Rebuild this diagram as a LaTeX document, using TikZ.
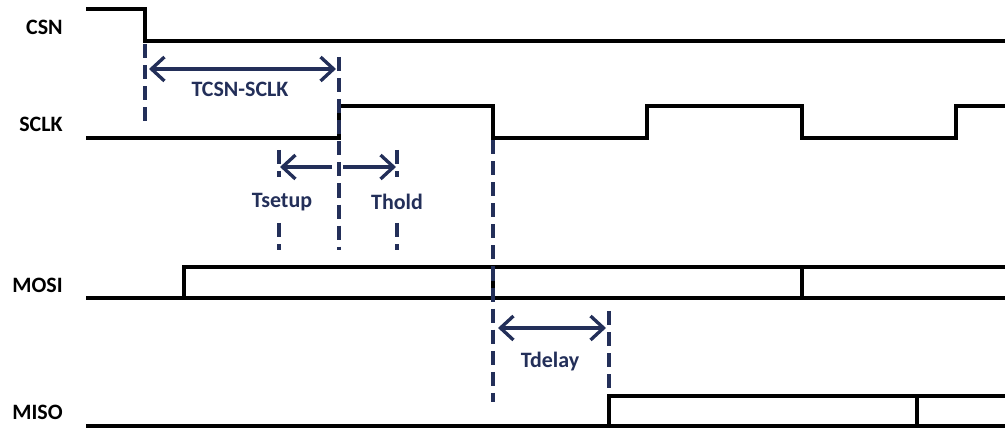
\documentclass[tikz,border=0pt]{standalone}
\usepackage{fontspec}
\setmainfont{Carlito}
\usetikzlibrary{arrows.meta}
\definecolor{navy}{RGB}{35,47,89}
\tikzset{
	signal/.style={black, line width=1.8pt},
	markline/.style={draw=navy, line width=2.1pt, dash pattern=on 8pt off 4pt},
	timearrow/.style={navy, line width=1.9pt, >={Straight Barb[length=2.6mm,width=4.8mm]}},
	siglabel/.style={font=\fontsize{12.5}{14}\selectfont\bfseries, anchor=base east, inner sep=0pt},
	timelabel/.style={font=\fontsize{12.5}{14}\selectfont\bfseries, text=navy, anchor=base, inner sep=0pt}
}

\begin{document}
\begin{tikzpicture}[x=0.02cm, y=-0.02cm]
	\useasboundingbox (0,0) rectangle (1005,428);
	
	%signal names
	\node[siglabel] at (63,35) (csn) {CSN};
	\node[siglabel] at (63,132) (sclk) {SCLK};
	\node[siglabel] at (63,293) (mosi) {MOSI};
	\node[siglabel] at (63,420) (miso) {MISO};
	
	%waveforms
	\draw[signal] (86,9) -- (145,9) -- (145,41) -- (1005,41);
	\draw[signal] (86,138) -- (339,138) -- (339,106) -- (493,106) -- (493,138) -- (647,138) -- (647,106) -- (802,106) -- (802,138) -- (956,138) -- (956,106) -- (1005,106);
	\draw[signal] (86,298) -- (1005,298);
	\draw[signal] (184,298) -- (184,267) -- (1005,267);
	\draw[signal] (493,267) -- (493,298);
	\draw[signal] (802,267) -- (802,298);
	\draw[signal] (86,426) -- (1005,426);
	\draw[signal] (609,426) -- (609,396) -- (1005,396);
	\draw[signal] (917,396) -- (917,426);
	
	%marker coordinates
	\coordinate (csnT) at (145,44);
	\coordinate (csnB) at (145,128);
	\coordinate (edgeT) at (339,57);
	\coordinate (edgeB) at (339,250);
	\coordinate (setupT) at (279,150);
	\coordinate (setupM) at (279,177);
	\coordinate (setupN) at (279,223);
	\coordinate (setupB) at (279,250);
	\coordinate (holdT) at (397,150);
	\coordinate (holdM) at (397,177);
	\coordinate (holdN) at (397,223);
	\coordinate (holdB) at (397,250);
	\coordinate (fallT) at (493,140);
	\coordinate (fallB) at (493,402);
	\coordinate (misoT) at (609,311);
	\coordinate (misoB) at (609,392);
	
	%dashed markers
	\draw[markline] (csnT) -- (csnB);
	\draw[markline] (edgeT) -- (edgeB);
	\draw[markline] (setupT) -- (setupM);
	\draw[markline] (setupN) -- (setupB);
	\draw[markline] (holdT) -- (holdM);
	\draw[markline] (holdN) -- (holdB);
	\draw[markline] (fallT) -- (fallB);
	\draw[markline] (misoT) -- (misoB);
	
	%arrows
	\coordinate (a1) at (149,69);
	\coordinate (a2) at (336,69);
	\coordinate (s1) at (332,167);
	\coordinate (s2) at (280,167);
	\coordinate (h1) at (343,167);
	\coordinate (h2) at (396,167);
	\coordinate (d1) at (498,328);
	\coordinate (d2) at (606,328);
	\draw[timearrow, <->] (a1) -- (a2);
	\draw[timearrow, ->] (s1) -- (s2);
	\draw[timearrow, ->] (h1) -- (h2);
	\draw[timearrow, <->] (d1) -- (d2);
	
	%timing names
	\node[timelabel] at (240,97) (tcsn) {TCSN-SCLK};
	\node[timelabel] at (282,208) (tsetup) {Tsetup};
	\node[timelabel] at (397,210) (thold) {Thold};
	\node[timelabel] at (550,368) (tdelay) {Tdelay};
\end{tikzpicture}
\end{document}
